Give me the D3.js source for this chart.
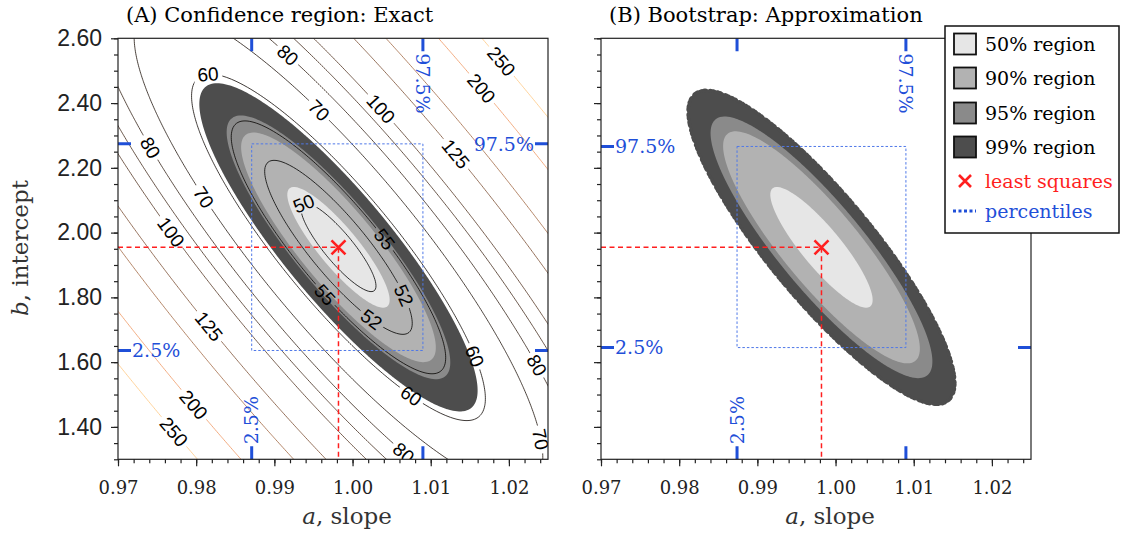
<!DOCTYPE html>
<html>
<head>
<meta charset="utf-8">
<script src="https://cdn.jsdelivr.net/npm/d3@7/dist/d3.min.js"></script>
<style>
body { margin: 0; background: #fff; }
svg { display: block; font-family: "DejaVu Serif", serif; }
</style>
</head>
<body>
<div id="chart"></div>
<script>
// ---- values ----
var aDomain = [0.97, 1.025],
    bDomain = [1.30, 2.60];
var aTicks = [0.97, 0.98, 0.99, 1.00, 1.01, 1.02];
var bTicks = [1.40, 1.60, 1.80, 2.00, 2.20, 2.40, 2.60];

// least squares estimate
var lsqA = 0.9982, lsqB = 1.9545;

// sum of squares surface S(a,b) = sMin + nPts*[(db + xMean*da)^2 + xVar*da^2]
var sMin = 49.3, nPts = 157, xMean = 24.85, xVar = 193;

var contourLevels = [50, 52, 55, 60, 70, 80, 90, 100, 125, 150, 200, 250];

var regionNames = ['50% region', '90% region', '95% region', '99% region'];
var regionFills = ['#e6e6e6', '#b2b2b2', '#8a8a8a', '#4d4d4d'];
var exactRegionLevels = [50.6, 54.0, 55.5, 58.9];
var bootRegionLevels = [50.6, 54.1, 55.4, 57.9];

// percentiles (2.5%, 97.5%)
var exactPctA = [0.9871, 1.0090], exactPctB = [1.636, 2.274];
var bootPctA = [0.9874, 1.0090], bootPctB = [1.645, 2.266];

// contour labels: level and rough spot (a, b)
var labelLevel = [60, 80, 70, 100, 125, 200, 250, 80, 70, 100, 125, 200, 250, 50, 55, 52, 52, 55, 60, 60, 80, 80, 70];
var labelA = [0.9818, 0.9916, 0.9958, 1.0035, 1.0131, 1.0163, 1.0189, 0.9744, 0.9805, 0.9767, 0.9814, 0.9794, 0.9769,
              0.9937, 1.0040, 1.0061, 1.0022, 0.9962, 1.0150, 1.0074, 1.0229, 1.0063, 1.0227];
var labelB = [2.464, 2.545, 2.380, 2.380, 2.241, 2.442, 2.526, 2.266, 2.102, 2.000, 1.706, 1.463, 1.380,
              2.093, 1.978, 1.802, 1.725, 1.802, 1.613, 1.493, 1.582, 1.313, 1.360];

//SET UP
var width = 1127, height = 533;
var W = 430, H = 421, top0 = 38.3;
var blue = '#1f4fd8', boxBlue = '#4f78e8', red = '#ff1f1f';

var svg = d3.select('#chart').append('svg')
    .attr('width', width)
    .attr('height', height);

var x = d3.scaleLinear().domain(aDomain).range([0, W]);
var y = d3.scaleLinear().domain(bDomain).range([H, 0]);

function sumSq(a, b) {
    var da = a - lsqA, db = b - lsqB, u = db + xMean * da;
    return sMin + nPts * (u * u + xVar * da * da);
}
function sPx(px, py) { return sumSq(x.invert(px), y.invert(py)); }

function copper(L) {
    var t = (L - 50) / 200;
    return d3.rgb(Math.min(255, 1.25 * t * 255), 0.7812 * t * 255, 0.4975 * t * 255).toString();
}

//grid of -S, a bit larger than the frame so borders fall outside the clip
var step = 2, pad = 20;
var nx = Math.ceil((W + 2 * pad) / step), ny = Math.ceil((H + 2 * pad) / step);
var grid = new Array(nx * ny);
for (var j = 0; j < ny; j++) {
    for (var i = 0; i < nx; i++) {
        grid[j * nx + i] = -sPx(-pad + (i + 0.5) * step, -pad + (j + 0.5) * step);
    }
}
var contours = d3.contours().size([nx, ny]);
var gridPath = d3.geoPath(d3.geoIdentity().scale(step).translate([-pad, -pad]));

var defs = svg.append('defs');

function makePanel(id, x0, title, regionLevels) {
    defs.append('clipPath').attr('id', 'clip' + id)
      .append('rect').attr('width', W).attr('height', H);

    var g = svg.append('g').attr('transform', 'translate(' + x0 + ',' + top0 + ')');
    var plot = g.append('g').attr('clip-path', 'url(#clip' + id + ')');

    //filled regions, outer first
    for (var k = regionLevels.length - 1; k >= 0; k--) {
        var d = gridPath(contours.contour(grid, -regionLevels[k]));
        if (id === 'B' && k === regionLevels.length - 1) {
            //ragged, speckled edge of the bootstrap cloud
            plot.append('path').attr('d', d)
                .attr('fill', 'none')
                .attr('stroke', regionFills[k])
                .attr('stroke-width', 7)
                .attr('stroke-linecap', 'round')
                .attr('stroke-dasharray', '0.1 4.3 0.1 2.1 0.1 5.7 0.1 3.1');
            plot.append('path').attr('d', d)
                .attr('fill', 'none')
                .attr('stroke', regionFills[k])
                .attr('stroke-width', 4.5)
                .attr('stroke-linecap', 'round')
                .attr('stroke-dasharray', '0.1 2.6 0.1 1.7 0.1 3.3');
        }
        plot.append('path').attr('d', d).attr('fill', regionFills[k]);
    }

    g.append('text')
        .attr('x', 8).attr('y', 22 - top0)
        .attr('font-size', 21)
        .text(title);

    return {g: g, plot: plot};
}

var A = makePanel('A', 118, '(A) Confidence region: Exact', exactRegionLevels);
var B = makePanel('B', 601, '(B) Bootstrap: Approximation', bootRegionLevels);

//CONTOUR LINES + LABELS (panel A)
var labels = labelLevel.map(function (L, k) {
    var px = x(labelA[k]), py = y(labelB[k]), gx, gy;
    for (var it = 0; it < 10; it++) {
        var s = sPx(px, py);
        gx = (sPx(px + 0.5, py) - sPx(px - 0.5, py));
        gy = (sPx(px, py + 0.5) - sPx(px, py - 0.5));
        var g2 = gx * gx + gy * gy;
        px -= (s - L) * gx / g2;
        py -= (s - L) * gy / g2;
    }
    var ang = Math.atan2(-gx, gy) * 180 / Math.PI;
    if (ang > 90) ang -= 180;
    if (ang <= -90) ang += 180;
    return {L: L, x: px, y: py, ang: ang};
});

var labFont = 19;
function holeW(d) { return String(d.L).length * 0.556 * labFont + 7; }

var mask = defs.append('mask').attr('id', 'labmask')
    .attr('maskUnits', 'userSpaceOnUse')
    .attr('x', -pad).attr('y', -pad).attr('width', W + 2 * pad).attr('height', H + 2 * pad);
mask.append('rect')
    .attr('x', -pad).attr('y', -pad).attr('width', W + 2 * pad).attr('height', H + 2 * pad)
    .attr('fill', '#fff');
mask.selectAll('.hole')
    .data(labels)
  .enter().append('rect')
    .attr('class', 'hole')
    .attr('x', function (d) { return -holeW(d) / 2; })
    .attr('y', -labFont * 0.45)
    .attr('width', holeW)
    .attr('height', labFont * 0.9)
    .attr('transform', function (d) { return 'translate(' + d.x + ',' + d.y + ') rotate(' + d.ang + ')'; })
    .attr('fill', '#000');

A.plot.append('g')
    .attr('mask', 'url(#labmask)')
  .selectAll('.contour')
    .data(contourLevels)
  .enter().append('path')
    .attr('class', 'contour')
    .attr('d', function (L) { return gridPath(contours.contour(grid, -L)); })
    .attr('fill', 'none')
    .attr('stroke', copper)
    .attr('stroke-width', 0.8);

A.plot.selectAll('.clabel')
    .data(labels)
  .enter().append('text')
    .attr('class', 'clabel')
    .attr('transform', function (d) { return 'translate(' + d.x + ',' + d.y + ') rotate(' + d.ang + ')'; })
    .attr('text-anchor', 'middle')
    .attr('dy', '0.36em')
    .attr('font-family', '"Liberation Sans", Arial, sans-serif')
    .attr('font-size', labFont)
    .text(function (d) { return d.L; });

//PERCENTILES, LEAST SQUARES, AXES
function decorate(P, pctA, pctB, bothLeft, showYLabels) {
    var g = P.g, plot = P.plot;

    plot.append('rect')
        .attr('x', x(pctA[0])).attr('y', y(pctB[1]))
        .attr('width', x(pctA[1]) - x(pctA[0]))
        .attr('height', y(pctB[0]) - y(pctB[1]))
        .attr('fill', 'none')
        .attr('stroke', boxBlue)
        .attr('stroke-width', 1)
        .attr('stroke-dasharray', '2.5 2');

    plot.append('path')
        .attr('d', 'M0,' + y(lsqB) + 'H' + x(lsqA) + 'V' + H)
        .attr('fill', 'none')
        .attr('stroke', red)
        .attr('stroke-width', 1.5)
        .attr('stroke-dasharray', '5 3.5');

    plot.append('path')
        .attr('d', 'M-7,-7L7,7M-7,7L7,-7')
        .attr('transform', 'translate(' + x(lsqA) + ',' + y(lsqB) + ')')
        .attr('stroke', red)
        .attr('stroke-width', 2.6);

    //blue percentile marks on all four sides
    var tl = 13, marks = '';
    pctA.forEach(function (a) {
        marks += 'M' + x(a) + ',0v' + tl + 'M' + x(a) + ',' + H + 'v' + (-tl);
    });
    pctB.forEach(function (b) {
        marks += 'M0,' + y(b) + 'h' + tl + 'M' + W + ',' + y(b) + 'h' + (-tl);
    });
    g.append('path').attr('d', marks)
        .attr('stroke', blue).attr('stroke-width', 3).attr('fill', 'none');

    var pl = g.append('g').attr('fill', blue).attr('font-size', 19);
    pl.append('text')
        .attr('transform', 'translate(' + x(pctA[0]) + ',' + (H - tl - 2) + ') rotate(-90)')
        .attr('dy', '0.35em').text('2.5%');
    pl.append('text')
        .attr('transform', 'translate(' + x(pctA[1]) + ',' + (tl + 2) + ') rotate(90)')
        .attr('dy', '0.35em').text('97.5%');
    pl.append('text')
        .attr('x', tl + 1).attr('y', y(pctB[0]))
        .attr('dy', '0.35em').text('2.5%');
    if (bothLeft) {
        pl.append('text')
            .attr('x', tl + 1).attr('y', y(pctB[1]))
            .attr('dy', '0.35em').text('97.5%');
    } else {
        pl.append('text')
            .attr('x', W - tl - 1).attr('y', y(pctB[1]))
            .attr('dy', '0.35em').attr('text-anchor', 'end').text('97.5%');
    }

    //frame
    g.append('rect')
        .attr('width', W).attr('height', H)
        .attr('fill', 'none').attr('stroke', '#222').attr('stroke-width', 1.2);

    var yAxis = g.append('g')
        .call(d3.axisLeft(y).tickValues(bTicks).tickSize(7).tickPadding(9)
            .tickFormat(showYLabels ? d3.format('.2f') : ''));
    g.append('g')
        .call(d3.axisLeft(y).tickValues(d3.range(1.30, 2.601, 0.05)).tickSize(4).tickFormat(''));
    var xAxis = g.append('g')
        .attr('transform', 'translate(0,' + H + ')')
        .call(d3.axisBottom(x).tickValues(aTicks).tickSize(7).tickPadding(15).tickFormat(d3.format('.2f')));
    g.append('g')
        .attr('transform', 'translate(0,' + H + ')')
        .call(d3.axisBottom(x).tickValues(d3.range(0.97, 1.0241, 0.002)).tickSize(4).tickFormat(''));

    g.selectAll('.domain').remove();
    g.selectAll('.tick line').attr('stroke', '#222').attr('stroke-width', 1.2);
    yAxis.selectAll('text')
        .attr('font-family', '"Liberation Sans", Arial, sans-serif')
        .attr('font-size', 23).attr('fill', '#222');
    xAxis.selectAll('text')
        .attr('font-family', '"DejaVu Serif", serif')
        .attr('font-size', 18).attr('fill', '#222');

    var xl = g.append('text')
        .attr('x', W / 2 + 14).attr('y', 524 - top0)
        .attr('text-anchor', 'middle').attr('font-size', 23).attr('fill', '#333');
    xl.append('tspan').attr('font-style', 'italic').text('a');
    xl.append('tspan').text(', slope');
}

decorate(A, exactPctA, exactPctB, false, true);
decorate(B, bootPctA, bootPctB, true, false);

var yl = svg.append('text')
    .attr('transform', 'translate(28,248) rotate(-90)')
    .attr('text-anchor', 'middle').attr('font-size', 23).attr('fill', '#333');
yl.append('tspan').attr('font-style', 'italic').text('b');
yl.append('tspan').text(', intercept');

//LEGEND
var leg = svg.append('g').attr('transform', 'translate(945,26)');
leg.append('rect')
    .attr('width', 174).attr('height', 207)
    .attr('fill', '#fff').attr('stroke', '#111').attr('stroke-width', 1.5);

var rowY = [18, 52, 87, 121, 155, 185];
regionNames.forEach(function (name, k) {
    leg.append('rect')
        .attr('x', 9).attr('y', rowY[k] - 10.5).attr('width', 22).attr('height', 21)
        .attr('fill', regionFills[k]).attr('stroke', '#111').attr('stroke-width', 1.8);
    leg.append('text')
        .attr('x', 40).attr('y', rowY[k]).attr('dy', '0.35em')
        .attr('font-size', 19).text(name);
});
leg.append('path')
    .attr('d', 'M-6,-6L6,6M-6,6L6,-6')
    .attr('transform', 'translate(20,' + rowY[4] + ')')
    .attr('stroke', red).attr('stroke-width', 2.6);
leg.append('text')
    .attr('x', 40).attr('y', rowY[4]).attr('dy', '0.35em')
    .attr('font-size', 19).attr('fill', red).text('least squares');
leg.append('path')
    .attr('d', 'M8,' + rowY[5] + 'H31')
    .attr('stroke', blue).attr('stroke-width', 3).attr('stroke-dasharray', '3 2.5');
leg.append('text')
    .attr('x', 40).attr('y', rowY[5]).attr('dy', '0.35em')
    .attr('font-size', 19).attr('fill', blue).text('percentiles');
</script>
</body>
</html>
